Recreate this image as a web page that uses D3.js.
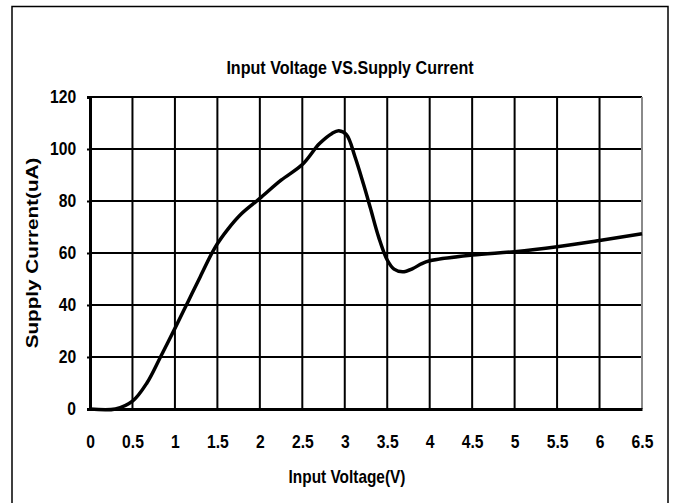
<!DOCTYPE html>
<html>
<head>
<meta charset="utf-8">
<script src="https://cdn.jsdelivr.net/npm/d3@7"></script>
<style>
    body { margin: 0; background: #fff; }
    svg text { font-family: "Liberation Sans", Arial, sans-serif; font-weight: bold; fill: #000; }
</style>
</head>
<body>
<div id="chart"></div>
<script>
// curve
let voltage = [0, 0.3, 0.5, 0.67, 0.83, 1.0, 1.15, 1.3, 1.47, 1.62, 1.78, 2.0, 2.25, 2.5, 2.7, 2.85, 2.93, 3.02, 3.12, 3.22, 3.3, 3.4, 3.5, 3.58, 3.68, 3.8, 3.9, 4.0, 4.5, 5.0, 5.5, 6.0, 6.5];
let current = [0, 0, 3, 10, 20, 31, 41, 51, 62, 69, 75, 81, 88, 94, 102, 106, 107, 105.5, 97, 86.5, 77.5, 66, 57.3, 53.8, 52.8, 54, 55.8, 57, 59.2, 60.5, 62.4, 64.8, 67.4];

let xTicks = [0, 0.5, 1, 1.5, 2, 2.5, 3, 3.5, 4, 4.5, 5, 5.5, 6, 6.5];
let yTicks = [0, 20, 40, 60, 80, 100, 120];

let chartTitle = "Input Voltage VS.Supply Current";
let xTitle = "Input Voltage(V)";
let yTitle = "Supply Current(uA)";

let W = 676, H = 503;
let margin = {top: 97, right: 34, bottom: 94, left: 90};
let width = W - margin.left - margin.right;
let height = H - margin.top - margin.bottom;

let svg = d3.select("#chart").append("svg")
    .attr("width", W)
    .attr("height", H);

// outer frame (bottom edge is off the picture)
svg.append("rect")
    .attr("x", 12).attr("y", 6.5)
    .attr("width", 656).attr("height", 520)
    .attr("fill", "none")
    .attr("stroke", "#000")
    .attr("stroke-width", 1.5);

let g = svg.append("g")
    .attr("transform", "translate(" + margin.left + "," + margin.top + ")");

let x = d3.scaleLinear().domain([0, 6.5]).range([0, width]);
let y = d3.scaleLinear().domain([0, 120]).range([height, 0]);

// grid
g.selectAll(".vgrid")
    .data(xTicks.filter(d => d > 0 && d < 6.5))
    .enter().append("line")
    .attr("x1", d => x(d)).attr("x2", d => x(d))
    .attr("y1", 0).attr("y2", height)
    .attr("stroke", "#000").attr("stroke-width", 2);

g.selectAll(".hgrid")
    .data(yTicks.filter(d => d > 0))
    .enter().append("line")
    .attr("x1", 0).attr("x2", width)
    .attr("y1", d => y(d)).attr("y2", d => y(d))
    .attr("stroke", "#000").attr("stroke-width", 2);

// right edge of plot area is grey
g.append("line")
    .attr("x1", x(6.5)).attr("x2", x(6.5))
    .attr("y1", 0).attr("y2", height)
    .attr("stroke", "#8a8a8a").attr("stroke-width", 2);

// axes
let yAxis = d3.axisLeft(y).tickValues(yTicks).tickSize(3).tickPadding(13);
let xAxis = d3.axisBottom(x).tickValues(xTicks).tickSize(0).tickPadding(26)
    .tickFormat(d3.format("~g"));

// the reference type is tall and narrow
let ya = g.append("g").call(yAxis);
ya.select(".domain").attr("stroke-width", 3);
ya.selectAll(".tick line").attr("stroke-width", 2);
ya.selectAll("text").style("font-size", "18px").attr("transform", "scale(0.87,1)");

let xa = g.append("g").attr("transform", "translate(0," + height + ")").call(xAxis);
xa.select(".domain").attr("stroke-width", 3);
xa.selectAll("text").style("font-size", "18px").attr("transform", "scale(0.87,1)");

// curve
let line = d3.line()
    .x((d, i) => x(voltage[i]))
    .y(d => y(d))
    .curve(d3.curveCatmullRom.alpha(0.5));

g.append("path")
    .datum(current)
    .attr("d", line)
    .attr("fill", "none")
    .attr("stroke", "#000")
    .attr("stroke-width", 3.5)
    .attr("stroke-linejoin", "round");

// titles
svg.append("text")
    .attr("transform", "translate(350,74) scale(0.92,1)")
    .attr("text-anchor", "middle")
    .style("font-size", "17.5px")
    .text(chartTitle);

svg.append("text")
    .attr("transform", "translate(347,483) scale(0.88,1)")
    .attr("text-anchor", "middle")
    .style("font-size", "17.5px")
    .text(xTitle);

svg.append("text")
    .attr("transform", "translate(38," + (margin.top + height / 2) + ") rotate(-90) scale(1.15,0.95)")
    .attr("text-anchor", "middle")
    .style("font-size", "18px")
    .text(yTitle);
</script>
</body>
</html>
